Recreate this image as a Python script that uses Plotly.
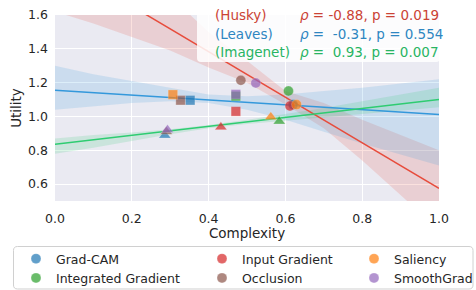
import plotly.graph_objects as go

# ---------------- data ----------------
methods = ["Grad-CAM", "Integrated Gradient", "Input Gradient", "Occlusion", "Saliency", "SmoothGrad"]
method_colors = ["#1f77b4", "#2ca02c", "#d62728", "#8c564b", "#ff7f0e", "#9467bd"]
legend_ids = ["legend", "legend", "legend2", "legend2", "legend3", "legend3"]

# Husky (circles)
husky_x = [0.620, 0.608, 0.612, 0.484, 0.629, 0.523]
husky_y = [1.070, 1.151, 1.062, 1.214, 1.070, 1.198]
# Leaves (squares)
leaves_x = [0.352, 0.471, 0.471, 0.327, 0.307, 0.471]
leaves_y = [1.096, 1.120, 1.030, 1.096, 1.129, 1.131]
# Imagenet (triangles)
imagenet_x = [0.286, 0.584, 0.432, 0.290, 0.562, 0.293]
imagenet_y = [0.888, 0.971, 0.937, 0.910, 0.997, 0.921]

# regression lines (values at x=0 and x=1)
line_x = [0.0, 1.0]
husky_line = [1.922, 0.575]
leaves_line = [1.155, 1.012]
imagenet_line = [0.836, 1.101]

# confidence bands read at these x positions
band_x = [0.0, 0.1, 0.2, 0.3, 0.4, 0.5, 0.6, 0.7, 0.8, 0.9, 1.0]
husky_lo = [1.62, 1.55, 1.47, 1.39, 1.29, 1.20, 1.07, 0.93, 0.74, 0.54, 0.33]
husky_hi = [2.32, 2.12, 1.91, 1.71, 1.50, 1.33, 1.15, 1.08, 0.98, 0.89, 0.80]
leaves_lo = [1.04, 1.06, 1.08, 1.09, 1.08, 1.04, 0.98, 0.91, 0.84, 0.775, 0.71]
leaves_hi = [1.30, 1.25, 1.21, 1.17, 1.13, 1.12, 1.13, 1.15, 1.17, 1.195, 1.22]
imagenet_lo = [0.78, 0.815, 0.855, 0.895, 0.93, 0.955, 0.975, 0.995, 1.015, 1.035, 1.055]
imagenet_hi = [0.87, 0.89, 0.905, 0.925, 0.95, 0.98, 1.015, 1.05, 1.09, 1.13, 1.17]

stat_labels = ["(Husky)", "(Leaves)", "(Imagenet)"]
stat_texts = ["<i>ρ</i> = -0.88, p = 0.019", "<i>ρ</i> =  -0.31, p = 0.554", "<i>ρ</i> =  0.93, p = 0.007"]
stat_colors = ["#cb4335", "#2e86c1", "#28b463"]

x_ticks = [0.0, 0.2, 0.4, 0.6, 0.8, 1.0]
y_ticks = [0.6, 0.8, 1.0, 1.2, 1.4, 1.6]

# ---------------- layout geometry ----------------
W, H = 476, 290
ML, MR, MT, MB = 55, 37, 15, 89
PW, PH = W - ML - MR, H - MT - MB


def px2paper(px, py):
    return (px - ML) / PW, (H - MB - py) / PH


def rounded_path(x0, y0, x1, y1, r):
    a = px2paper
    p = []
    p.append("M %f,%f" % a(x0 + r, y0))
    p.append("L %f,%f" % a(x1 - r, y0))
    p.append("Q %f,%f %f,%f" % (*a(x1, y0), *a(x1, y0 + r)))
    p.append("L %f,%f" % a(x1, y1 - r))
    p.append("Q %f,%f %f,%f" % (*a(x1, y1), *a(x1 - r, y1)))
    p.append("L %f,%f" % a(x0 + r, y1))
    p.append("Q %f,%f %f,%f" % (*a(x0, y1), *a(x0, y1 - r)))
    p.append("L %f,%f" % a(x0, y0 + r))
    p.append("Q %f,%f %f,%f" % (*a(x0, y0), *a(x0 + r, y0)))
    p.append("Z")
    return " ".join(p)


fig = go.Figure()


def add_band(lo, hi, fillcolor):
    fig.add_trace(go.Scatter(x=band_x, y=lo, mode="lines", line=dict(width=0),
                             showlegend=False, hoverinfo="skip"))
    fig.add_trace(go.Scatter(x=band_x, y=hi, mode="lines", line=dict(width=0),
                             fill="tonexty", fillcolor=fillcolor,
                             showlegend=False, hoverinfo="skip"))


add_band(husky_lo, husky_hi, "rgba(231,76,60,0.17)")
add_band(leaves_lo, leaves_hi, "rgba(52,152,219,0.17)")
add_band(imagenet_lo, imagenet_hi, "rgba(46,204,113,0.17)")

for yl, c in [(husky_line, "#e74c3c"), (leaves_line, "#3498db"), (imagenet_line, "#2ecc71")]:
    fig.add_trace(go.Scatter(x=line_x, y=yl, mode="lines", line=dict(color=c, width=1.5),
                             showlegend=False, hoverinfo="skip"))

for i, m in enumerate(methods):
    fig.add_trace(go.Scatter(
        x=[husky_x[i], leaves_x[i], imagenet_x[i]],
        y=[husky_y[i], leaves_y[i], imagenet_y[i]],
        mode="markers", name=m, legend=legend_ids[i],
        marker=dict(color=method_colors[i], size=[10, 9.5, 10.5],
                    symbol=["circle", "square", "triangle-up"],
                    line=dict(color="rgba(255,255,255,0.5)", width=0.5)),
    ))

font_fam = "DejaVu Sans"

shapes = [
    dict(type="path", xref="paper", yref="paper", layer="above",
         path=rounded_path(197, -6, 440, 62, 4),
         fillcolor="rgba(255,255,255,0.85)", line=dict(width=0)),
    dict(type="path", xref="paper", yref="paper", layer="above",
         path=rounded_path(13.5, 246.5, 473, 289, 4),
         fillcolor="white", line=dict(color="#d0d0d0", width=1)),
]

annotations = []
row_y = [15, 33.5, 52]
for j in range(3):
    xl, yy = px2paper(213, row_y[j])
    xs, _ = px2paper(298, row_y[j])
    annotations.append(dict(x=xl, y=yy, xref="paper", yref="paper", text=stat_labels[j],
                            showarrow=False, xanchor="left", yanchor="middle",
                            font=dict(family=font_fam, size=13.5, color=stat_colors[j])))
    annotations.append(dict(x=xs, y=yy, xref="paper", yref="paper", text=stat_texts[j],
                            showarrow=False, xanchor="left", yanchor="middle",
                            font=dict(family=font_fam, size=13.5, color=stat_colors[j])))

legend_common = dict(orientation="v", bgcolor="rgba(0,0,0,0)", borderwidth=0,
                     font=dict(family=font_fam, size=12.5, color="#262626"),
                     xanchor="left", yanchor="top", tracegroupgap=0, traceorder="normal")
ly = px2paper(0, 244)[1]
fig.update_layout(
    width=W, height=H,
    margin=dict(l=ML, r=MR, t=MT, b=MB, autoexpand=False),
    paper_bgcolor="white", plot_bgcolor="#EAEAF2",
    font=dict(family=font_fam, color="#262626"),
    showlegend=True,
    legend=dict(x=px2paper(16, 0)[0], y=ly, **legend_common),
    legend2=dict(x=px2paper(202, 0)[0], y=ly, **legend_common),
    legend3=dict(x=px2paper(354, 0)[0], y=ly, **legend_common),
    xaxis=dict(range=[0, 1], tickvals=x_ticks, tickformat=".1f", showgrid=True,
               gridcolor="white", gridwidth=1, zeroline=False, showline=False,
               ticks="", ticklabelstandoff=8, tickfont=dict(size=12.5, color="#262626"),
               title=dict(text="Complexity", standoff=2, font=dict(size=13.5, color="#262626"))),
    yaxis=dict(range=[0.5, 1.6], tickvals=y_ticks, tickformat=".1f", showgrid=True,
               gridcolor="white", gridwidth=1, zeroline=False, showline=False,
               ticks="", ticklabelstandoff=6, tickfont=dict(size=12.5, color="#262626"),
               title=dict(text="Utility", standoff=3, font=dict(size=13.5, color="#262626"))),
    shapes=shapes,
    annotations=annotations,
)

fig.write_html("out.html", config={"displayModeBar": False},
               post_script="document.body.style.margin='0';")
